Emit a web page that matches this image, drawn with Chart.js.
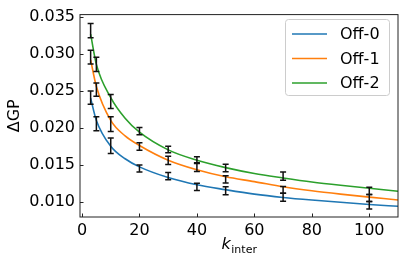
<!DOCTYPE html>
<html lang="en">
<head>
<meta charset="UTF-8">
<title>Delta GP vs k_inter</title>
<style>
  html, body { margin: 0; padding: 0; background: #fff; }
</style>
</head>
<body>
<canvas id="myChart" width="407" height="266"></canvas>
<script src="https://cdn.jsdelivr.net/npm/chart.js@4.4.1/dist/chart.umd.min.js"></script>
<script>
    // measured points, with their error bars
    const kPoints = [3, 5, 10, 20, 30, 40, 50, 70, 100];
    const off0 = [0.0241, 0.02055, 0.01756, 0.01448, 0.01344, 0.0120, 0.01147, 0.01057, 0.0095];
    const off0Err = [0.0009, 0.00096, 0.00105, 0.00047, 0.00049, 0.00049, 0.00054, 0.00054, 0.0005];
    const off1 = [0.02959, 0.02517, 0.02051, 0.01746, 0.01559, 0.01466, 0.0130, 0.01158, 0.01047];
    const off1Err = [0.00094, 0.0009, 0.001, 0.0005, 0.00056, 0.0006, 0.0005, 0.00047, 0.00048];
    const off2 = [0.03317, 0.02859, 0.02356, 0.01955, 0.01705, 0.01561, 0.01455, 0.01345, 0.01143];
    const off2Err = [0.00096, 0.00096, 0.00094, 0.0005, 0.00045, 0.00045, 0.0005, 0.00056, 0.00049];

    // fitted curves
    const kFit = [3, 5, 10, 15, 20, 30, 40, 50, 60, 70, 80, 90, 100, 110];
    const off0Fit = [0.0240, 0.0210, 0.0175, 0.0158, 0.0147, 0.01325, 0.01227, 0.0116, 0.0110, 0.01055, 0.0102, 0.0099, 0.0096, 0.00935];
    const off1Fit = [0.0292, 0.0256, 0.0210, 0.0189, 0.0176, 0.0156, 0.0143, 0.01335, 0.0127, 0.0120, 0.01145, 0.0110, 0.0106, 0.0102];
    const off2Fit = [0.0327, 0.0286, 0.0241, 0.0213, 0.0194, 0.0170, 0.0156, 0.0146, 0.0138, 0.0132, 0.01265, 0.0122, 0.0118, 0.0114];

    const seriesNames = ['Off-0', 'Off-1', 'Off-2'];
    const seriesColors = ['#1f77b4', '#ff7f0e', '#2ca02c'];
    const xTicks = [0, 20, 40, 60, 80, 100];
    const yTicks = [0.010, 0.015, 0.020, 0.025, 0.030, 0.035];

    const fits = [off0Fit, off1Fit, off2Fit];
    const points = [off0, off1, off2];
    const errs = [off0Err, off1Err, off2Err];

    const FONT = 'DejaVu Sans';

    function makeLine(i) {
        return {
            label: seriesNames[i],
            data: kFit.map((k, j) => ({x: k, y: fits[i][j]})),
            borderColor: seriesColors[i],
            backgroundColor: seriesColors[i],
            borderWidth: 1.6,
            pointRadius: 0,
            cubicInterpolationMode: 'monotone',
            fill: false
        };
    }

    // frame, inward ticks, error bars, x title and legend
    const extras = {
        id: 'extras',
        afterDatasetsDraw(chart) {
            const ctx = chart.ctx;
            const xs = chart.scales.x, ys = chart.scales.y;
            ctx.save();
            ctx.strokeStyle = '#111';
            ctx.lineWidth = 1.5;
            for (let i = 0; i < points.length; i++) {
                for (let j = 0; j < kPoints.length; j++) {
                    const px = xs.getPixelForValue(kPoints[j]);
                    const lo = ys.getPixelForValue(points[i][j] - errs[i][j]);
                    const hi = ys.getPixelForValue(points[i][j] + errs[i][j]);
                    ctx.beginPath();
                    ctx.moveTo(px, lo); ctx.lineTo(px, hi);
                    ctx.moveTo(px - 3, lo); ctx.lineTo(px + 3, lo);
                    ctx.moveTo(px - 3, hi); ctx.lineTo(px + 3, hi);
                    ctx.stroke();
                }
            }
            ctx.restore();
        },
        afterDraw(chart) {
            const ctx = chart.ctx;
            const a = chart.chartArea;
            const xs = chart.scales.x, ys = chart.scales.y;
            ctx.save();
            ctx.strokeStyle = '#222';
            ctx.lineWidth = 1;
            ctx.strokeRect(a.left, a.top, a.right - a.left, a.bottom - a.top);
            ctx.beginPath();
            xTicks.forEach(v => {
                const p = Math.round(xs.getPixelForValue(v)) + 0.5;
                ctx.moveTo(p, a.bottom); ctx.lineTo(p, a.bottom - 3.5);
            });
            yTicks.forEach(v => {
                const p = Math.round(ys.getPixelForValue(v)) + 0.5;
                ctx.moveTo(a.left, p); ctx.lineTo(a.left + 3.5, p);
            });
            ctx.stroke();

            // x axis title: k with subscript "inter"
            ctx.fillStyle = '#000';
            ctx.textBaseline = 'alphabetic';
            ctx.textAlign = 'left';
            ctx.font = 'italic 16px "' + FONT + '"';
            const kw = ctx.measureText('k').width;
            ctx.font = '11px "' + FONT + '"';
            const sw = ctx.measureText('inter').width;
            const cx = (a.left + a.right) / 2;
            const x0 = cx - (kw + sw) / 2;
            ctx.font = 'italic 16px "' + FONT + '"';
            ctx.fillText('k', x0, 249);
            ctx.font = '11px "' + FONT + '"';
            ctx.fillText('inter', x0 + kw + 0.5, 253);

            // legend
            const bx = 285, by = 19, bw = 104, bh = 76;
            ctx.beginPath();
            ctx.roundRect(bx + 0.5, by + 0.5, bw, bh, 3);
            ctx.fillStyle = 'rgba(255,255,255,0.8)';
            ctx.fill();
            ctx.strokeStyle = '#cccccc';
            ctx.stroke();
            ctx.font = '16px "' + FONT + '"';
            ctx.textBaseline = 'middle';
            for (let i = 0; i < seriesNames.length; i++) {
                const yy = 34 + i * 24.5;
                ctx.strokeStyle = seriesColors[i];
                ctx.lineWidth = 1.6;
                ctx.beginPath();
                ctx.moveTo(292, yy); ctx.lineTo(327, yy);
                ctx.stroke();
                ctx.fillStyle = '#000';
                ctx.fillText(seriesNames[i], 340, yy + 1);
            }
            ctx.restore();
        }
    };

    const ctx = document.getElementById('myChart').getContext('2d');
    const chart = new Chart(ctx, {
        type: 'line',
        data: {
            datasets: [makeLine(0), makeLine(1), makeLine(2)]
        },
        options: {
            responsive: false,
            animation: false,
            devicePixelRatio: 1,
            layout: { padding: { top: 12, right: 9, left: 0, bottom: 0 } },
            plugins: {
                legend: { display: false },
                tooltip: { enabled: false }
            },
            scales: {
                x: {
                    type: 'linear',
                    min: -0.7,
                    max: 110,
                    grid: { display: false, drawTicks: false },
                    border: { display: false },
                    afterBuildTicks: s => { s.ticks = xTicks.map(v => ({value: v})); },
                    afterFit: s => { s.height = 49; },
                    ticks: {
                        color: '#000',
                        padding: 4,
                        maxRotation: 0,
                        font: { family: FONT, size: 16 },
                        callback: v => String(v)
                    }
                },
                y: {
                    type: 'linear',
                    min: 0.0079,
                    max: 0.03535,
                    grid: { display: false, drawTicks: false },
                    border: { display: false },
                    afterBuildTicks: s => { s.ticks = yTicks.map(v => ({value: v})); },
                    afterFit: s => { s.width = 80; },
                    title: {
                        display: true,
                        text: 'ΔGP',
                        color: '#000',
                        padding: { top: 5, bottom: 0 },
                        font: { family: FONT, size: 16 }
                    },
                    ticks: {
                        color: '#000',
                        padding: 5,
                        font: { family: FONT, size: 16 },
                        callback: v => v.toFixed(3)
                    }
                }
            }
        },
        plugins: [extras]
    });
</script>
</body>
</html>
